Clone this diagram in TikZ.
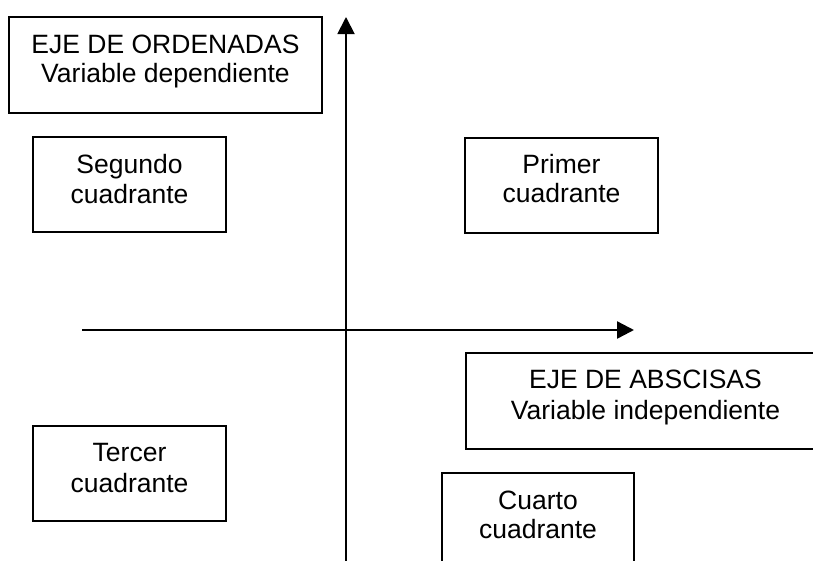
\documentclass[tikz,border=0pt]{standalone}
\usepackage{fontspec}
\setmainfont{Liberation Sans}
\usetikzlibrary{arrows.meta}
\begin{document}
\begin{tikzpicture}[x=1pt,y=-1pt,
  box/.style={draw=black, line width=1.9pt, inner sep=0pt},
  lbl/.style={font=\fontsize{26.5}{31}\selectfont, anchor=base, inner sep=0pt},
  axis/.style={line width=1.9pt},
  tip/.style={-{Triangle[width=17pt,length=17pt]}}]
\useasboundingbox (0,0) rectangle (813,560);
\clip (0,0) rectangle (813,560);
% boxes
\node[box, minimum width=313pt, minimum height=96pt] (ord) at (165.5,65) {};
\node[box, minimum width=193pt, minimum height=95pt] (seg) at (129.5,184.5) {};
\node[box, minimum width=193pt, minimum height=95pt] (pri) at (561.5,185.5) {};
\node[box, minimum width=193pt, minimum height=95pt] (ter) at (129.5,473.5) {};
\node[box, minimum width=360pt, minimum height=96pt] (abs) at (646,401) {};
\node[box, minimum width=192pt, minimum height=96pt] (cua) at (538,521) {};
% texts
\node[lbl] (ord1) at (165.5,53) {EJE DE ORDENADAS};
\node[lbl] (ord2) at (165.5,82) {Variable dependiente};
\node[lbl] (seg1) at (129.5,173) {Segundo};
\node[lbl] (seg2) at (129.5,203) {cuadrante};
\node[lbl] (pri1) at (561.5,173) {Primer};
\node[lbl] (pri2) at (561.5,202) {cuadrante};
\node[lbl] (ter1) at (129.5,461) {Tercer};
\node[lbl] (ter2) at (129.5,492) {cuadrante};
\node[lbl] (abs1) at (645.5,388) {EJE DE ABSCISAS};
\node[lbl] (abs2) at (645.5,419) {Variable independiente};
\node[lbl] (cua1) at (538,509) {Cuarto};
\node[lbl] (cua2) at (538,538) {cuadrante};
% axes
\coordinate (ybot) at (346,562);
\coordinate (ytop) at (346,17);
\coordinate (xleft) at (82,330);
\coordinate (xmid) at (562,330);
\coordinate (xright) at (634,330);
\draw[axis, tip] (ybot) -- (ytop);
\draw[axis] (xleft) -- (xmid);
\draw[axis, line width=2.4pt, tip] (xmid) -- (xright);
\end{tikzpicture}
\end{document}
